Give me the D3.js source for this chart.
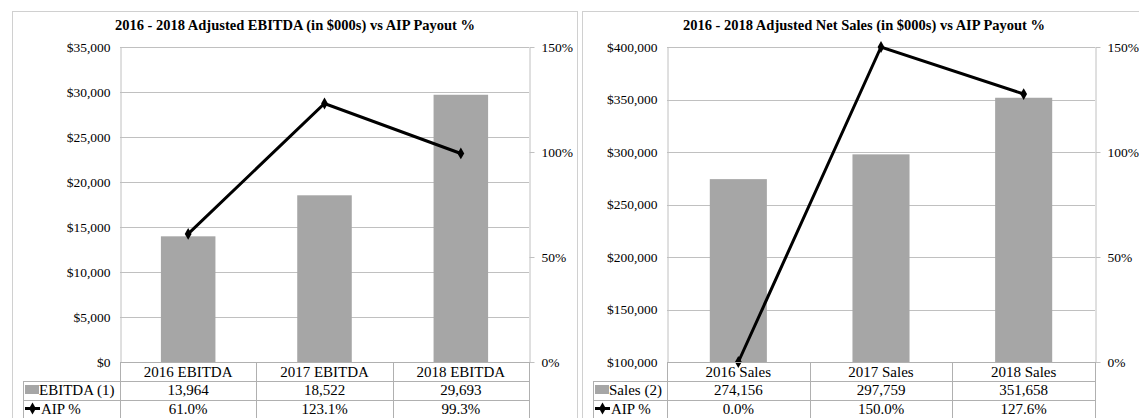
<!DOCTYPE html>
<html>
<head>
<meta charset="utf-8">
<script src="https://cdn.jsdelivr.net/npm/d3@7/dist/d3.min.js"></script>
<style>
  html, body { margin: 0; padding: 0; background: #fff; }
  svg { display: block; }
  text { font-family: "Liberation Serif", "Times New Roman", serif; fill: #000; }
</style>
</head>
<body>
<svg id="chart" width="1139" height="418"></svg>
<script>
// ---------- DATA ----------
const ebitdaCategories = ["2016 EBITDA", "2017 EBITDA", "2018 EBITDA"];
const ebitdaValues = [13964, 18522, 29693];
const ebitdaAip = [61.0, 123.1, 99.3];
const ebitdaTicks = [0, 5000, 10000, 15000, 20000, 25000, 30000, 35000];

const salesCategories = ["2016 Sales", "2017 Sales", "2018 Sales"];
const salesValues = [274156, 297759, 351658];
const salesAip = [0.0, 150.0, 127.6];
const salesTicks = [100000, 150000, 200000, 250000, 300000, 350000, 400000];

const pctTicks = [0, 50, 100, 150];

// ---------- LAYOUT ----------
const svg = d3.select("#chart");
const grid = "#c0c0c0";
const barColor = "#a6a6a6";

const charts = [
  {
    title: "2016 - 2018 Adjusted EBITDA (in $000s) vs AIP Payout %",
    box: [12, 577], titleX: 295,
    plot: [120, 529], tableLeft: 23,
    cats: ebitdaCategories, vals: ebitdaValues, aip: ebitdaAip,
    ticks: ebitdaTicks, domain: [0, 35000],
    barLabel: "EBITDA (1)",
    fmtAxis: d => "$" + d3.format(",")(d)
  },
  {
    title: "2016 - 2018 Adjusted Net Sales (in $000s) vs AIP Payout %",
    box: [582, 1146], titleX: 864,
    plot: [667, 1095], tableLeft: 593,
    cats: salesCategories, vals: salesValues, aip: salesAip,
    ticks: salesTicks, domain: [100000, 400000],
    barLabel: "Sales (2)",
    fmtAxis: d => "$" + d3.format(",")(d)
  }
];

const plotTop = 47, plotBottom = 362;
const row1 = 381, row2 = 399.5, row3 = 418;

charts.forEach(c => {
  const g = svg.append("g");
  // outer box
  g.append("rect").attr("x", c.box[0] + 0.5).attr("y", 11.5)
    .attr("width", c.box[1] - c.box[0]).attr("height", 430)
    .attr("fill", "none").attr("stroke", "#d0d0d0");

  g.append("text").attr("x", c.titleX).attr("y", 30)
    .attr("text-anchor", "middle").attr("font-weight", "bold")
    .attr("font-size", "14.5px").text(c.title);

  const x = d3.scaleBand().domain(c.cats).range(c.plot).paddingInner(0.6).paddingOuter(0.3);
  const xc = d3.scaleBand().domain(c.cats).range(c.plot);
  const y = d3.scaleLinear().domain(c.domain).range([plotBottom, plotTop]);
  const y2 = d3.scaleLinear().domain([0, 150]).range([plotBottom, plotTop]);

  // gridlines
  g.append("g").selectAll("line").data(c.ticks).join("line")
    .attr("x1", c.plot[0]).attr("x2", c.plot[1])
    .attr("y1", d => Math.round(y(d)) + 0.5).attr("y2", d => Math.round(y(d)) + 0.5)
    .attr("stroke", grid);

  // left axis
  const la = g.append("g").attr("transform", `translate(${c.plot[0] + 0.5},0)`)
    .call(d3.axisLeft(y).tickValues(c.ticks).tickFormat(c.fmtAxis).tickSize(0).tickPadding(10));
  la.select(".domain").attr("stroke", grid);
  la.selectAll("text").attr("font-size", "13.5px").attr("font-family", "Liberation Serif");

  // right axis
  const ra = g.append("g").attr("transform", `translate(${c.plot[1] + 0.5},0)`)
    .call(d3.axisRight(y2).tickValues(pctTicks).tickFormat(d => d + "%").tickSizeInner(5).tickSizeOuter(0).tickPadding(7));
  ra.select(".domain").attr("stroke", grid);
  ra.selectAll(".tick line").attr("stroke", grid);
  ra.selectAll("text").attr("font-size", "13.5px").attr("font-family", "Liberation Serif");

  // bars
  g.append("g").selectAll("rect").data(c.cats).join("rect")
    .attr("x", d => x(d)).attr("width", x.bandwidth())
    .attr("y", (d, i) => y(c.vals[i])).attr("height", (d, i) => plotBottom - y(c.vals[i]))
    .attr("fill", barColor);

  // line
  const pts = c.cats.map((d, i) => [xc(d) + xc.bandwidth() / 2, y2(c.aip[i])]);
  g.append("path").attr("d", d3.line()(pts)).attr("fill", "none")
    .attr("stroke", "#000").attr("stroke-width", 3).attr("stroke-linejoin", "miter");
  const diamond = d3.symbol().type(d3.symbolDiamond).size(40);
  g.append("g").selectAll("path").data(pts).join("path")
    .attr("transform", d => `translate(${d[0]},${d[1]})`).attr("d", diamond).attr("fill", "#000");

  // table
  const tg = g.append("g");
  const L = (x1, y1, x2, y2b) => tg.append("line").attr("x1", x1).attr("y1", y1).attr("x2", x2).attr("y2", y2b)
    .attr("stroke", "#b0b0b0");
  L(c.plot[0], plotBottom + 0.5, c.plot[1], plotBottom + 0.5);
  L(c.tableLeft, row1 + 0.5, c.plot[1], row1 + 0.5);
  L(c.tableLeft, Math.round(row2) + 0.5, c.plot[1], Math.round(row2) + 0.5);
  L(c.tableLeft + 0.5, row1, c.tableLeft + 0.5, row3 + 5);
  const cols = [c.plot[0], ...c.cats.map(d => xc(d) + xc.bandwidth())];
  cols.forEach(cx => L(Math.round(cx) + 0.5, plotBottom, Math.round(cx) + 0.5, row3 + 5));

  const fs = "15px";
  tg.selectAll("text.cat").data(c.cats).join("text").attr("class", "cat")
    .attr("x", d => xc(d) + xc.bandwidth() / 2).attr("y", 377)
    .attr("text-anchor", "middle").attr("font-size", fs).text(d => d);
  tg.selectAll("text.val").data(c.cats).join("text").attr("class", "val")
    .attr("x", d => xc(d) + xc.bandwidth() / 2).attr("y", 395)
    .attr("text-anchor", "middle").attr("font-size", fs).text((d, i) => d3.format(",")(c.vals[i]));
  tg.selectAll("text.pct").data(c.cats).join("text").attr("class", "pct")
    .attr("x", d => xc(d) + xc.bandwidth() / 2).attr("y", 413.5)
    .attr("text-anchor", "middle").attr("font-size", fs).text((d, i) => d3.format(".1f")(c.aip[i]) + "%");

  // legend keys
  tg.append("rect").attr("x", c.tableLeft + 2).attr("y", 385).attr("width", 14).attr("height", 9).attr("fill", barColor);
  tg.append("text").attr("x", c.tableLeft + 16).attr("y", 395).attr("font-size", fs).text(c.barLabel);
  tg.append("line").attr("x1", c.tableLeft + 2).attr("x2", c.tableLeft + 17).attr("y1", 408.5).attr("y2", 408.5)
    .attr("stroke", "#000").attr("stroke-width", 3);
  tg.append("path").attr("transform", `translate(${c.tableLeft + 9.5},408.5)`).attr("d", diamond).attr("fill", "#000");
  tg.append("text").attr("x", c.tableLeft + 18).attr("y", 413.5).attr("font-size", fs).text("AIP %");
});
</script>
</body>
</html>
